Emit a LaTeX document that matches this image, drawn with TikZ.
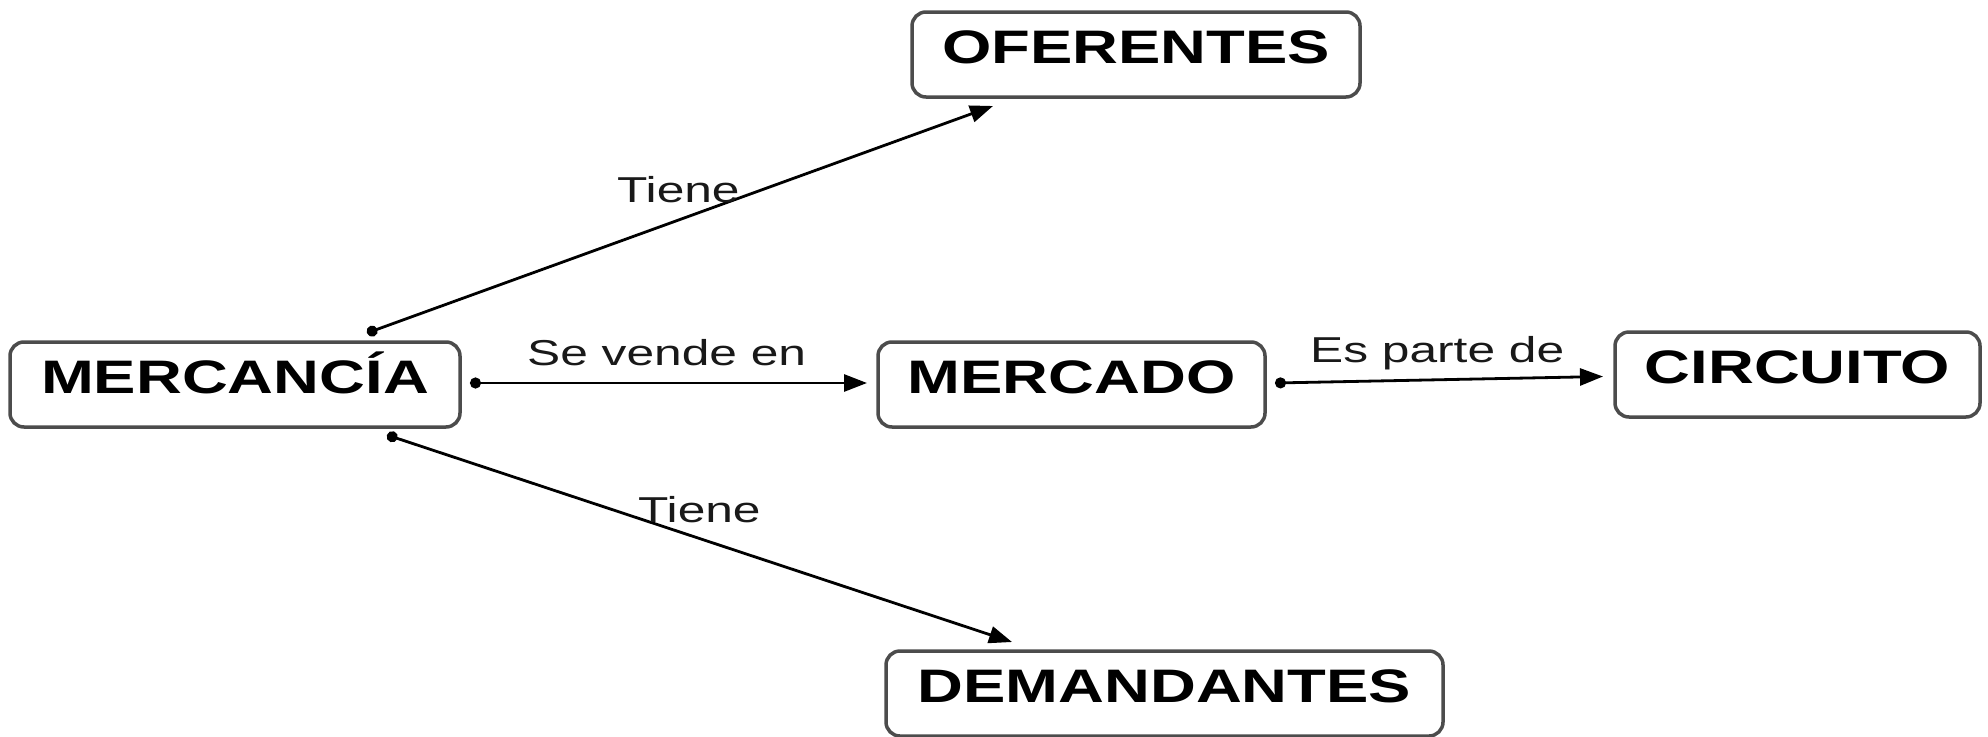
\documentclass[tikz,border=0pt]{standalone}
\usepackage{fontspec}
\setmainfont{Liberation Sans}
\usetikzlibrary{arrows.meta}
\newcommand{\boxtxt}[1]{\scalebox{1.35}[1]{#1}\hspace{13pt}}
\newcommand{\lbltxt}[1]{\scalebox{1.38}[1]{#1}}
\tikzset{
  box/.style={draw=black!70, line width=3.5pt, rounded corners=14pt, fill=white,
    inner xsep=0pt, inner ysep=0pt, outer sep=0pt, text height=51pt, text depth=34pt,
    anchor=north west, font=\fontsize{47}{50}\selectfont\bfseries},
  lbl/.style={inner sep=0pt, anchor=base west, text=black!90, font=\fontsize{36}{40}\selectfont},
  conn/.style={line width=2.8pt, {Circle[length=11pt]}-{Triangle[length=23pt,width=17pt]}}
}
\begin{document}
\begin{tikzpicture}[x=1pt,y=-1pt]
\useasboundingbox[fill=white] (0,0) rectangle (1988,736);
\node[box, minimum width=450pt] (mca) at (10,342) {\boxtxt{MERCANCÍA}};
\node[box, minimum width=448pt] (ofe) at (912,12) {\boxtxt{OFERENTES}};
\node[box, minimum width=387pt] (mdo) at (878,342) {\boxtxt{MERCADO}};
\node[box, minimum width=365pt] (cir) at (1615,332) {\boxtxt{CIRCUITO}};
\node[box, minimum width=557pt] (dem) at (886,651) {\boxtxt{DEMANDANTES}};

\draw[conn] ([shift={(357,-9)}]mca.north west) -- ([shift={(81,9)}]ofe.south west);
\draw[conn] ([shift={(10,-1.5)}]mca.east) -- ([shift={(-11,-1.5)}]mdo.west);
\draw[conn] ([shift={(10,-1.5)}]mdo.east) -- ([shift={(-12,2)}]cir.west);
\draw[conn] ([shift={(377,8)}]mca.south west) -- ([shift={(126,-9)}]dem.north west);

\node[lbl] (l1) at (617,202) {\lbltxt{Tiene}};
\node[lbl] (l2) at (527,365) {\lbltxt{Se vende en}};
\node[lbl] (l3) at (1310,362) {\lbltxt{Es parte de}};
\node[lbl] (l4) at (638,522) {\lbltxt{Tiene}};
\end{tikzpicture}
\end{document}
